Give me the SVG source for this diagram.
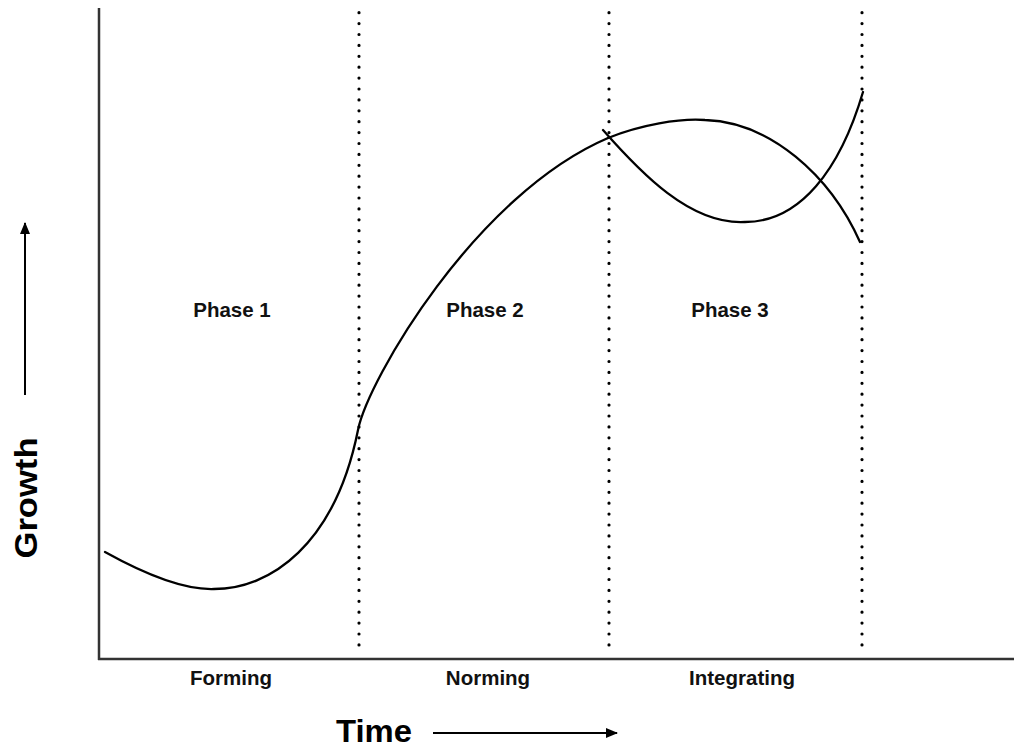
<svg xmlns="http://www.w3.org/2000/svg" width="1014" height="751" viewBox="0 0 1014 751">
<style>
.lbl{font-family:"Liberation Sans",Arial,sans-serif;font-weight:bold;font-size:20.5px;fill:#111;text-anchor:middle}
.big{font-family:"Liberation Sans",Arial,sans-serif;font-weight:bold;font-size:32px;fill:#000;text-anchor:middle}
.axis{stroke:#333;stroke-width:2.5;fill:none}
.dots{stroke:#000;stroke-width:3.2;stroke-linecap:round;stroke-dasharray:0 10.9;fill:none}
.curve{stroke:#000;stroke-width:2.3;fill:none;stroke-linecap:round}
.arr{stroke:#000;stroke-width:2;fill:none}
</style>
<defs>
<marker id="ah" viewBox="0 0 12 10" refX="11" refY="5" markerWidth="12" markerHeight="10" markerUnits="userSpaceOnUse" orient="auto">
<path d="M0,0 L12,5 L0,10 Z" fill="#000"/>
</marker>
</defs>
<rect width="1014" height="751" fill="#fff"/>
<g id="axes">
<line class="axis" x1="99" y1="8" x2="99" y2="660"/>
<line class="axis" x1="98" y1="659" x2="1014" y2="659"/>
</g>
<g id="dividers">
<line class="dots" x1="359" y1="12.7" x2="359" y2="650"/>
<line class="dots" x1="609" y1="12.7" x2="609" y2="650"/>
<line class="dots" x1="862" y1="12.7" x2="862" y2="650"/>
</g>
<g id="connectors">
<path id="growth-curve" class="curve" d="M105,552 C150,577 185,590 214,589 C270,589 335,545 358,430 C368,380 475,195 608,138"/>
<path id="curve-a" class="curve" d="M608,138 C640,125 680,118 705,120 C770,122 830,175 860,242"/>
<path id="curve-b" class="curve" d="M603,130 C640,172 690,225 745,222 C800,222 840,170 863,92"/>
<line class="arr" x1="25" y1="395" x2="25" y2="223" marker-end="url(#ah)"/>
<line class="arr" x1="433" y1="733" x2="617" y2="733" marker-end="url(#ah)"/>
</g>
<g id="phase1"><text class="lbl" x="232" y="317">Phase 1</text><text class="lbl" x="231" y="685">Forming</text></g>
<g id="phase2"><text class="lbl" x="485" y="317">Phase 2</text><text class="lbl" x="488" y="685">Norming</text></g>
<g id="phase3"><text class="lbl" x="730" y="317">Phase 3</text><text class="lbl" x="742" y="685">Integrating</text></g>
<g id="axis-labels">
<text class="big" x="374" y="742" textLength="76" lengthAdjust="spacingAndGlyphs">Time</text>
<text class="big" transform="translate(37,498) rotate(-90)" x="0" y="0" textLength="121" lengthAdjust="spacingAndGlyphs">Growth</text>
</g>
</svg>
